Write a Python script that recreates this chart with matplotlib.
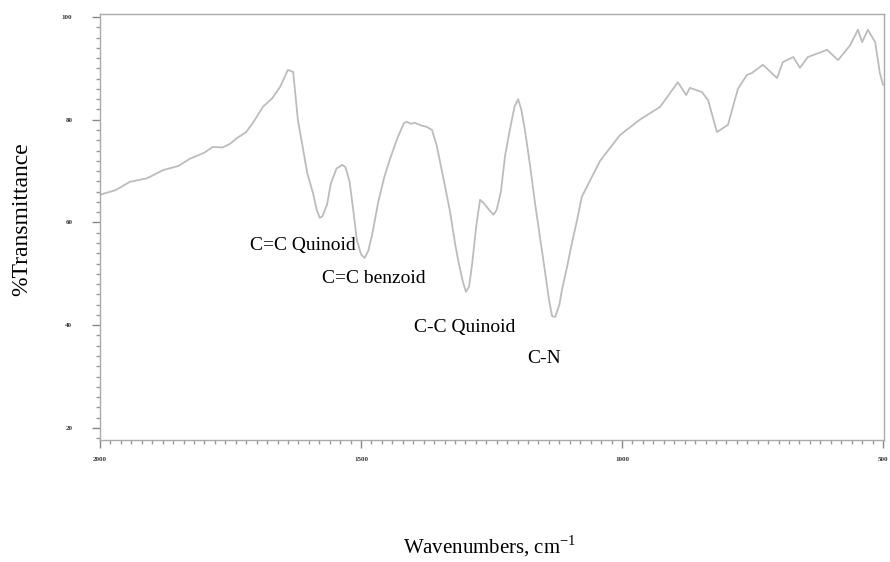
import numpy as np
import matplotlib.pyplot as plt
from matplotlib.ticker import MultipleLocator

# FTIR spectrum, read as (wavenumber cm-1, %T)
wavenumber = [2000, 1970, 1943, 1910, 1879, 1850, 1828, 1800, 1784, 1765,
              1751, 1738, 1720, 1707, 1688, 1670, 1655,
              1640, 1630, 1621, 1603, 1592, 1585, 1579, 1574, 1565, 1558,
              1547, 1536, 1530, 1522, 1515, 1508, 1500, 1493, 1486, 1478,
              1467, 1455, 1444, 1430, 1418, 1412, 1405, 1397, 1385, 1374, 1364, 1355,
              1349, 1340, 1330, 1320, 1314, 1305, 1299, 1293, 1287, 1279,
              1272, 1265, 1255, 1246, 1240, 1232, 1224, 1215, 1206, 1199,
              1193, 1186, 1176, 1167, 1157, 1148, 1140, 1134, 1128, 1120,
              1115, 1105, 1096, 1086, 1077, 1042, 1004, 966, 927, 893,
              877, 870, 847, 835, 822, 818, 797, 778, 761, 751,
              730, 703, 692, 672, 659, 644, 607, 586, 563, 548,
              540, 529, 515, 506, 500]
transmittance = [65.4, 66.3, 67.9, 68.6, 70.2, 71.0, 72.4, 73.6, 74.7, 74.6,
                 75.3, 76.4, 77.6, 79.4, 82.5, 84.2, 86.4,
                 89.7, 89.3, 80.0, 69.6, 65.7, 62.5, 60.9, 61.2, 63.5, 67.5,
                 70.5, 71.2, 70.8, 68.0, 62.5, 56.6, 53.8, 53.1, 54.5, 58.0,
                 64.0, 69.0, 72.5, 76.5, 79.3, 79.6, 79.2, 79.4, 78.9, 78.6, 78.0, 75.0,
                 72.0, 67.5, 62.4, 56.0, 52.7, 48.5, 46.5, 47.5, 52.0, 59.5,
                 64.4, 63.8, 62.5, 61.5, 62.5, 66.0, 73.0, 78.0, 82.5, 84.0,
                 82.0, 78.0, 71.0, 64.0, 57.0, 50.8, 45.0, 41.8, 41.6, 44.0,
                 46.9, 51.5, 56.0, 60.5, 65.0, 72.0, 77.0, 80.0, 82.5, 87.3,
                 84.8, 86.2, 85.4, 83.8, 79.0, 77.6, 79.0, 86.0, 88.7, 89.1,
                 90.7, 88.1, 91.2, 92.2, 90.1, 92.2, 93.6, 91.6, 94.5, 97.5,
                 95.1, 97.5, 95.1, 89.1, 86.8]

band_labels = ["C=C Quinoid", "C=C benzoid", "C-C Quinoid", "C-N"]
band_label_pos = [(1713, 55.6), (1575, 49.0), (1398, 39.5), (1182, 33.6)]

plt.rcParams["font.family"] = "Liberation Serif"

fig = plt.figure(figsize=(8.9, 5.62), dpi=100)
ax = fig.add_axes([0.1124, 0.2171, 0.8809, 0.7580])

ax.plot(wavenumber, transmittance, color="#bcbcbc", lw=1.3)

ax.set_xlim(2000, 498)
ax.set_ylim(17.66, 100.58)

ax.xaxis.set_major_locator(MultipleLocator(500))
ax.xaxis.set_minor_locator(MultipleLocator(20))
ax.yaxis.set_major_locator(MultipleLocator(20))
ax.yaxis.set_minor_locator(MultipleLocator(2))
ax.tick_params(axis="both", which="major", direction="out", length=6,
               width=1, color="#888888", labelsize=5, labelcolor="#333333")
ax.tick_params(axis="both", which="minor", direction="out", length=3,
               width=1, color="#999999")
ax.tick_params(axis="y", pad=14)
ax.tick_params(axis="x", pad=6)
for lbl in ax.get_xticklabels() + ax.get_yticklabels():
    lbl.set_fontweight("bold")

for side in ["left", "bottom", "top", "right"]:
    ax.spines[side].set_color("#aaaaaa")
    ax.spines[side].set_linewidth(1.0)

for text, (x, y) in zip(band_labels, band_label_pos):
    ax.text(x, y, text, fontsize=14, ha="left", va="center", color="black")

fig.text(0.025, 0.61, "%Transmittance", rotation=90, fontsize=17,
         ha="center", va="center")
fig.text(0.55, 0.028, r"Wavenumbers, cm$^{\mathregular{-1}}$", fontsize=15,
         ha="center", va="center")

fig.savefig("out.png", dpi=100)
